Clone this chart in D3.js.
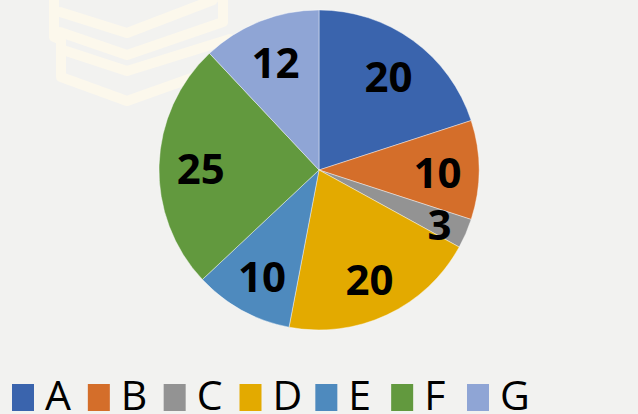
<!DOCTYPE html>
<html>
<head>
<meta charset="utf-8">
<script src="https://cdn.jsdelivr.net/npm/d3@7"></script>
<style>
html,body{margin:0;padding:0;background:#f2f2f0;}
svg{display:block;}
</style>
</head>
<body>
<svg id="chart" width="638" height="414"></svg>
<script>
const categories = ["A","B","C","D","E","F","G"];
const values = [20,10,3,20,10,25,12];
const colors = ["#3a64ad","#d46e2a","#939393","#e3aa00","#4e8abe","#62993e","#8fa5d5"];

const W = 638, H = 414;
const svg = d3.select("#chart");
svg.append("rect").attr("width",W).attr("height",H).attr("fill","#f2f2f0");

// faint watermark
const wm = svg.append("g").attr("fill","none").attr("stroke","#fcf8ec")
  .attr("stroke-width",10).attr("stroke-linejoin","round").attr("stroke-linecap","round");
const wmPaths = [
  [[54,-5],[54,37],[61,40],[61,77],[127,101],[200,75]],
  [[60,12],[127,33],[213,0]],
  [[60,32],[127,55],[223,22],[223,-5]],
  [[63,50],[127,71],[230,39]]
];
wmPaths.forEach(p=>wm.append("path").attr("d",d3.line()(p)));

const cx = 319, cy = 170, r = 160;
const data = categories.map((c,i)=>({cat:c,value:values[i],color:colors[i]}));
const pie = d3.pie().value(d=>d.value).sort(null);
const arcs = pie(data);
const arc = d3.arc().innerRadius(0).outerRadius(r);
const g = svg.append("g").attr("transform",`translate(${cx},${cy})`);
g.selectAll("path.slice").data(arcs).join("path")
  .attr("class","slice")
  .attr("d",arc)
  .attr("fill",d=>d.data.color)
  .attr("stroke","#ffffff").attr("stroke-opacity",0.6).attr("stroke-width",0.7);

const labelArc = d3.arc().innerRadius(r*0.74).outerRadius(r*0.74);
const smallArc = d3.arc().innerRadius(r*0.82).outerRadius(r*0.82);
g.selectAll("text.lbl").data(arcs).join("text")
  .attr("class","lbl")
  .attr("transform",d=>{
    const a = (d.endAngle-d.startAngle) < 0.3 ? smallArc : labelArc;
    const [x,y] = a.centroid(d);
    return `translate(${x},${y})`;
  })
  .attr("text-anchor","middle")
  .attr("dy","0.43em")
  .attr("font-family","'Open Sans', sans-serif")
  .attr("font-weight","bold")
  .attr("font-size",42)
  .attr("fill","#000")
  .text(d=>d.data.value);

// legend
const legX = d3.scalePoint().domain(categories).range([12,467]);
const leg = svg.append("g");
const items = leg.selectAll("g").data(data).join("g")
  .attr("transform",d=>`translate(${legX(d.cat)},0)`);
items.append("rect").attr("x",0).attr("y",384).attr("width",22).attr("height",27).attr("fill",d=>d.color);
items.append("text").attr("x",33).attr("y",410)
  .attr("font-family","'Open Sans', sans-serif").attr("font-size",41).attr("fill","#000")
  .text(d=>d.cat);
</script>
</body>
</html>
